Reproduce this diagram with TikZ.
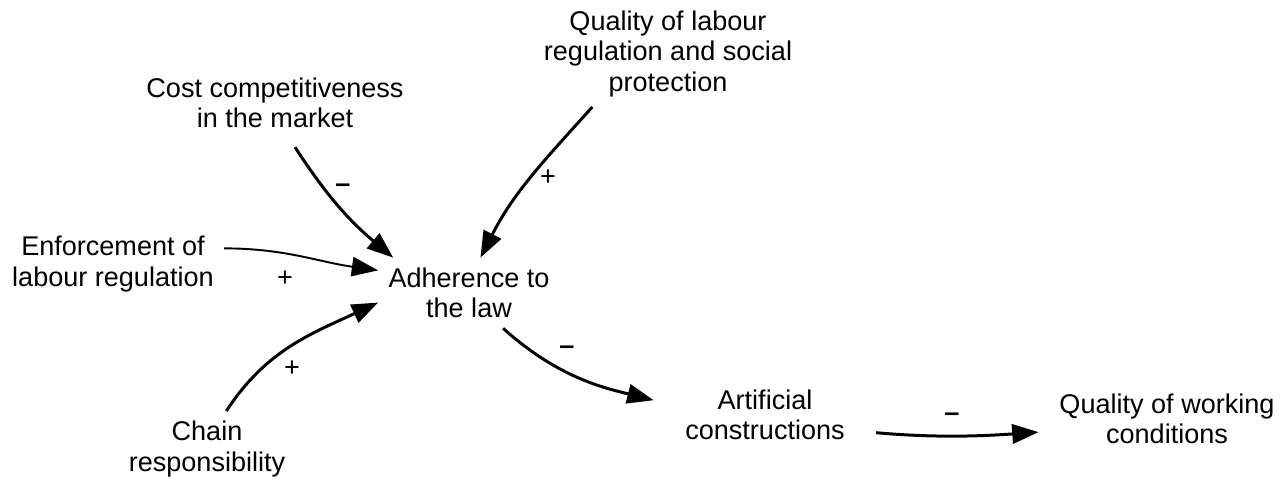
\documentclass[tikz,border=0pt]{standalone}
\usepackage{fontspec}
\setmainfont{Liberation Sans}
\usetikzlibrary{arrows.meta, positioning}

\begin{document}
\begin{tikzpicture}[
  x=0.02cm, y=-0.02cm,
  every node/.style={font=\fontsize{15.4}{17.1}\selectfont, align=center, inner sep=5.7pt},
  link/.style={-{Triangle[length=15pt, width=11pt]}, line width=1.7pt},
  thinlink/.style={link, line width=1.1pt},
  sign/.style={inner sep=0pt, font=\fontsize{15.4}{15.4}\selectfont}
]
  \useasboundingbox (0,0) rectangle (1288,479);

  % variables
  \node (quality) at (668,54) {Quality of labour\\regulation and social\\protection};
  \node (cost) at (275,103) {Cost competitiveness\\in the market};
  \node (enforce) at (113,264) {Enforcement of\\labour regulation};
  \node (adhere) at (469,293) {Adherence to\\the law};
  \node (chain) at (207,449) {Chain\\responsibility};
  \node (artificial) at (765,415) {Artificial\\constructions};
  \node (working) at (1167,419) {Quality of working\\conditions};

  % causal links
  \draw[link, shorten <=6pt] (cost.-68) to[out=-57, in=140] (adhere.155);
  \draw[link] (quality.-145) to[out=228, in=63] (adhere.72);
  \draw[thinlink] (enforce.8) to[out=0, in=172] (adhere.166);
  \draw[link] (chain.63) to[out=57, in=205] (adhere.186);
  \draw[link, shorten >=12.5pt] (adhere.-46) to[out=-42, in=166] (artificial.174);
  \draw[link, shorten <=12pt, shorten >=6pt] (artificial.-10) to[out=-5, in=184] (working.186);

  % polarities
  \node[sign] (s1) at (343,188) {\textbf{–}};
  \node[sign] (s2) at (548,178) {+};
  \node[sign] (s3) at (285,279) {+};
  \node[sign] (s4) at (292,369) {+};
  \node[sign] (s5) at (567,350) {\textbf{–}};
  \node[sign] (s6) at (952,417) {\textbf{–}};
\end{tikzpicture}
\end{document}
